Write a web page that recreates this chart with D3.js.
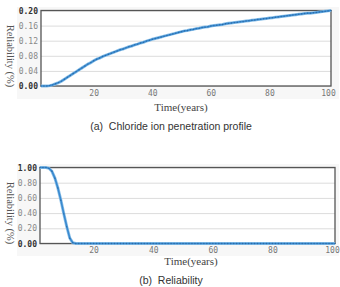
<!DOCTYPE html>
<html><head><meta charset="utf-8">
<script src="https://cdn.jsdelivr.net/npm/d3@7"></script>
<style>body{margin:0;background:#fff}svg{display:block}</style>
</head><body>
<svg id="c" width="340" height="287"></svg>
<script>
const years = d3.range(1, 101);
const chloride = [0.000,0.000,0.000,0.001,0.003,0.006,0.009,0.013,0.018,0.023,
0.028,0.033,0.038,0.043,0.048,0.053,0.058,0.062,0.067,0.071,
0.074,0.078,0.081,0.084,0.087,0.090,0.093,0.096,0.098,0.101,
0.104,0.106,0.109,0.111,0.114,0.116,0.119,0.121,0.124,0.126,
0.128,0.130,0.132,0.134,0.136,0.138,0.140,0.142,0.144,0.146,
0.147,0.149,0.150,0.152,0.153,0.155,0.156,0.157,0.159,0.160,
0.161,0.162,0.163,0.165,0.166,0.167,0.168,0.169,0.170,0.171,
0.172,0.173,0.174,0.175,0.176,0.177,0.178,0.179,0.180,0.181,
0.182,0.183,0.184,0.185,0.186,0.187,0.188,0.189,0.190,0.191,
0.192,0.193,0.193,0.194,0.195,0.196,0.197,0.198,0.199,0.200];
const reliability = [1.00,1.00,1.00,0.99,0.95,0.86,0.73,0.57,0.39,0.22,
0.07,0.01,0,0,0,0,0,0,0,0, 0,0,0,0,0,0,0,0,0,0, 0,0,0,0,0,0,0,0,0,0,
0,0,0,0,0,0,0,0,0,0, 0,0,0,0,0,0,0,0,0,0, 0,0,0,0,0,0,0,0,0,0,
0,0,0,0,0,0,0,0,0,0, 0,0,0,0,0,0,0,0,0,0, 0,0,0,0,0,0,0,0,0,0];
const xTicks = [20, 40, 60, 80, 100];
const yTicksA = [0, 0.04, 0.08, 0.12, 0.16, 0.20];
const yTicksB = [0, 0.2, 0.4, 0.6, 0.8, 1.0];
const yTitle = "Reliability (%)";
const xTitle = "Time(years)";
const captionA = "(a)  Chloride ion penetration profile";
const captionB = "(b)  Reliability";

const svg = d3.select("#c");

function panel(cfg) {
  const g = svg.append("g");
  g.append("rect").attr("x", cfg.bg[0]).attr("y", cfg.bg[1]).attr("width", cfg.bg[2]).attr("height", cfg.bg[3]).attr("fill", "#f7f7f7");
  const x = d3.scaleLinear().domain([1, 100]).range([cfg.l, cfg.r]);
  const y = d3.scaleLinear().domain([0, cfg.ymax]).range([cfg.b, cfg.t]);
  g.append("rect").attr("x", cfg.l).attr("y", cfg.t).attr("width", cfg.r - cfg.l).attr("height", cfg.b - cfg.t).attr("fill", "#fff");
  const ya = g.append("g").attr("transform", `translate(${cfg.l},0)`)
    .call(d3.axisLeft(y).tickValues(cfg.yt).tickSize(-(cfg.r - cfg.l)).tickPadding(3).tickFormat(d3.format(".2f")));
  ya.select(".domain").remove();
  ya.selectAll("line").attr("stroke", "#dcdcdc");
  ya.selectAll("text").attr("font-family", "DejaVu Sans Mono").attr("font-size", 8)
    .attr("font-weight", d => (d === 0 || d === cfg.ymax) ? "bold" : "normal")
    .attr("fill", d => (d === 0 || d === cfg.ymax) ? "#333" : "#888");
  const xa = g.append("g").attr("transform", `translate(0,${cfg.b})`)
    .call(d3.axisBottom(x).tickValues(xTicks).tickSize(0).tickPadding(cfg.xpad));
  xa.select(".domain").remove();
  xa.selectAll("text").attr("font-family", "DejaVu Sans Mono").attr("font-size", 8).attr("fill", "#777").attr("dx", -3);
  g.append("rect").attr("x", cfg.l).attr("y", cfg.t).attr("width", cfg.r - cfg.l).attr("height", cfg.b - cfg.t)
    .attr("fill", "none").attr("stroke", "#555").attr("stroke-width", 1.3);
  const data = years.map((yr, i) => [yr, cfg.vals[i]]);
  const line = d3.line().x(d => x(d[0])).y(d => y(d[1]));
  g.append("path").datum(data).attr("d", line).attr("fill", "none").attr("stroke", "#8cc0e8").attr("stroke-width", 3);
  g.append("path").datum(data).attr("d", line).attr("fill", "none").attr("stroke", "#3a8ad0").attr("stroke-width", 1.6);
  g.selectAll("circle.pt").data(data).enter().append("circle").attr("class", "pt")
    .attr("cx", d => x(d[0])).attr("cy", d => y(d[1])).attr("r", 0.7).attr("fill", "#2a6aa5");
  g.append("text").attr("transform", `translate(${cfg.ytx},${cfg.yty}) rotate(90)`).attr("text-anchor", "middle")
    .attr("font-family", "Liberation Serif").attr("font-size", 10.5).attr("fill", "#555").text(yTitle);
  g.append("text").attr("x", cfg.xtx).attr("y", cfg.xty).attr("text-anchor", "middle")
    .attr("font-family", "Liberation Serif").attr("font-size", 11).attr("fill", "#444").text(xTitle);
  g.append("text").attr("x", cfg.cx).attr("y", cfg.cy).attr("text-anchor", "middle").attr("xml:space", "preserve")
    .attr("font-family", "Liberation Sans").attr("font-size", 10.5).attr("fill", "#333").text(cfg.cap);
}

panel({bg: [17, 7, 322, 92], l: 41, r: 331, t: 10.5, b: 86, ymax: 0.20, yt: yTicksA, vals: chloride, xpad: 4,
  ytx: 7, yty: 56, xtx: 181, xty: 111, cx: 171, cy: 130, cap: captionA});
panel({bg: [17, 164, 322, 92], l: 40, r: 335, t: 167.5, b: 243.5, ymax: 1.0, yt: yTicksB, vals: reliability, xpad: 4,
  ytx: 7, yty: 213, xtx: 191, xty: 265, cx: 171, cy: 284, cap: captionB});
</script>
</body></html>
